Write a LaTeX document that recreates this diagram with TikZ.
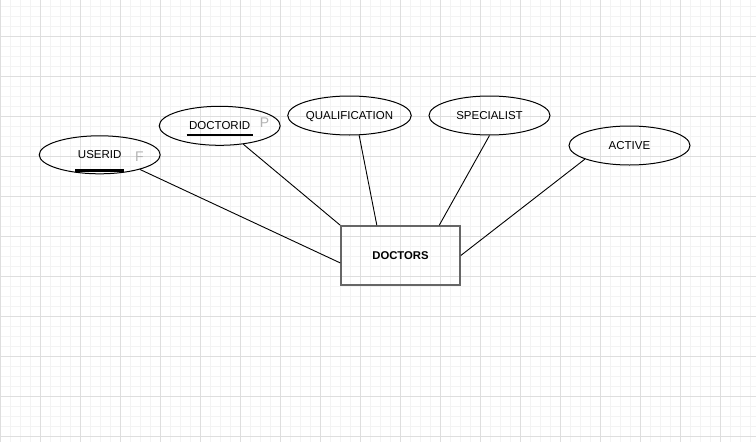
\documentclass[tikz,border=0pt]{standalone}
\usepackage{fontspec}
\setmainfont{Liberation Sans}
\usetikzlibrary{shapes.geometric,positioning}
\definecolor{gridminor}{HTML}{F3F3F3}
\definecolor{gridmajor}{HTML}{DEDEDE}
\definecolor{entityline}{HTML}{666666}
\definecolor{keygray}{HTML}{B4B4B4}

\begin{document}
\begin{tikzpicture}[x=1pt,y=-1pt,
        attr node/.style={ellipse,draw,line width=1pt,minimum width=121pt,minimum height=39pt,
                          inner sep=0pt,text depth=0pt,font=\fontsize{11.5}{13}\selectfont},
        entity node/.style={rectangle,draw=entityline,line width=1.6pt,minimum width=119pt,
                            minimum height=59pt,text depth=0pt,font=\fontsize{11.3}{13}\selectfont\bfseries},
        key node/.style={text=keygray,inner sep=0pt,text depth=0pt,font=\fontsize{14}{16}\selectfont},
        key line/.style={line width=2.2pt}]

        % Background grid
        \useasboundingbox (0,0) rectangle (756,442);
        \clip (0,0) rectangle (756,442);
        \fill[white] (0,0) rectangle (756,442);
        \draw[gridminor,line width=0.8pt,yshift=4pt] (0,450) grid[step=10pt] (760,-10);
        \draw[gridmajor,line width=0.8pt,yshift=4pt] (0,450) grid[step=40pt] (760,-10);

        % Define vertices
        \node[entity node] (doctors) at (400.5,255.5) {DOCTORS};
        \node[attr node,minimum height=38pt] (userid) at (99.7,154.8) {USERID};
        \node[attr node] (doctorid) at (219.7,125.8) {DOCTORID};
        \node[attr node] (qualification) at (349.5,115.5) {QUALIFICATION};
        \node[attr node] (specialist) at (489.5,115.5) {SPECIALIST};
        \node[attr node] (active) at (629.5,145.5) {ACTIVE};

        % Key marks
        \node[key node] (useridkey) at (139.5,156.7) {F};
        \node[key node] (doctoridkey) at (264.5,123) {P};
        \draw[key line] (75,170.5) -- (124,170.5);
        \draw[key line] (186.5,135) -- (252.5,135);

        % Draw edges
        \path[line width=0.9pt]
            (userid.-20) edge (doctors.187)
            (doctorid.-38) edge (doctors.north west)
            (qualification.-64) edge (doctors.128)
            (specialist.south) edge (doctors.38)
            (active.197) edge (doctors.east);

        \end{tikzpicture}
\end{document}
